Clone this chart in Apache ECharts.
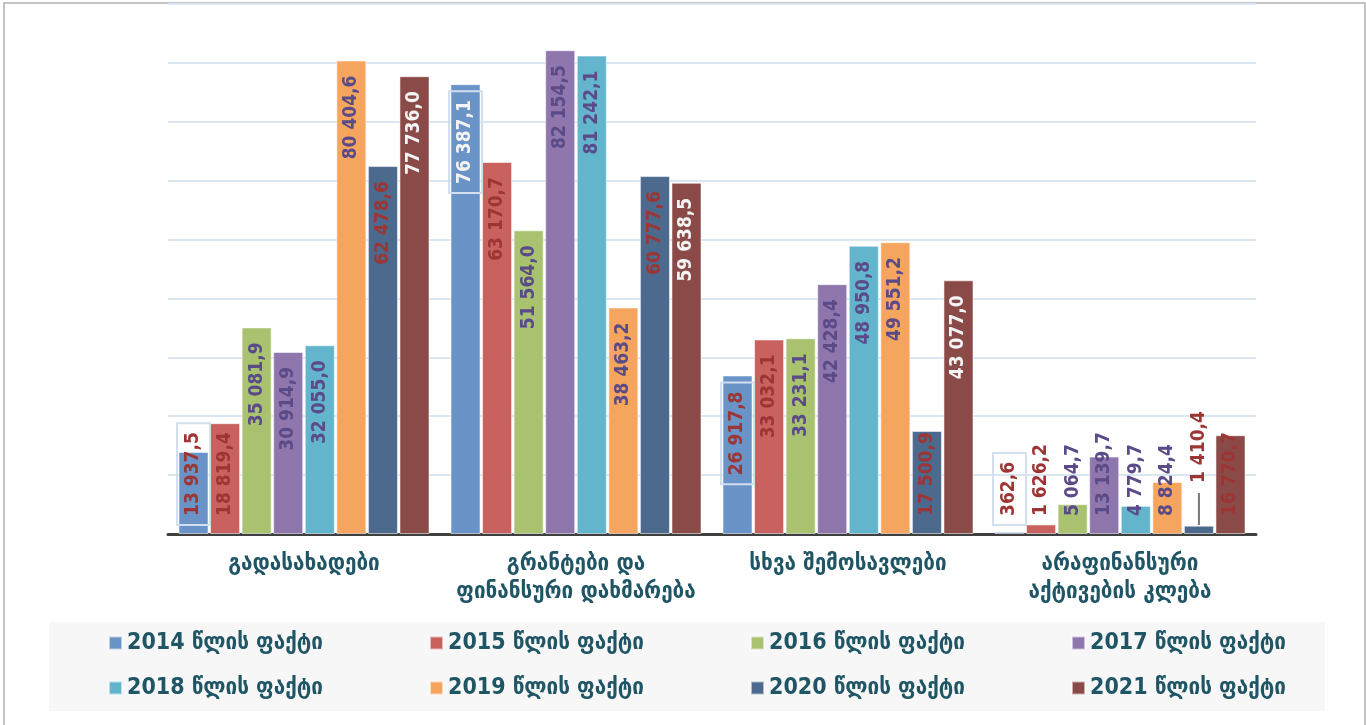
<!DOCTYPE html>
<html>
	<head>
		<meta charset="utf-8">
		<title>ფაქტი</title>
		<script src="https://cdn.jsdelivr.net/npm/echarts@6/dist/echarts.min.js"></script>
		<style>
			html, body { margin: 0; padding: 0; background: #fff; }
			#main { width: 1366px; height: 725px; }
		</style>
	</head>
	<body>
		<div id="main"></div>
		<script>
			// კატეგორიები
			var categories = ['გადასახადები', 'გრანტები და\nფინანსური დახმარება', 'სხვა შემოსავლები', 'არაფინანსური\nაქტივების კლება'];
			var years = ['2014 წლის ფაქტი', '2015 წლის ფაქტი', '2016 წლის ფაქტი', '2017 წლის ფაქტი',
				'2018 წლის ფაქტი', '2019 წლის ფაქტი', '2020 წლის ფაქტი', '2021 წლის ფაქტი'];

			// მონაცემები (ათასი ლარი)
			var fact2014 = [13937.5, 76387.1, 26917.8, 362.6];
			var fact2015 = [18819.4, 63170.7, 33032.1, 1626.2];
			var fact2016 = [35081.9, 51564.0, 33231.1, 5064.7];
			var fact2017 = [30914.9, 82154.5, 42428.4, 13139.7];
			var fact2018 = [32055.0, 81242.1, 48950.8, 4779.7];
			var fact2019 = [80404.6, 38463.2, 49551.2, 8824.4];
			var fact2020 = [62478.6, 60777.6, 17500.9, 1410.4];
			var fact2021 = [77736.0, 59638.5, 43077.0, 16770.7];
			var allData = [fact2014, fact2015, fact2016, fact2017, fact2018, fact2019, fact2020, fact2021];

			var colors = ['#6a93c8', '#c9625f', '#a8c26f', '#8f77ad', '#62b5cc', '#f6a55f', '#4b6a8e', '#8a4a48'];

			// წარწერების ფერები
			var RED = '#9c3533', PURPLE = '#5a4a88', WHITE = '#f4f4f4';
			var labelColors = [
				[RED, WHITE, RED, RED],
				[RED, RED, RED, RED],
				[PURPLE, PURPLE, PURPLE, PURPLE],
				[PURPLE, PURPLE, PURPLE, PURPLE],
				[PURPLE, PURPLE, PURPLE, PURPLE],
				[PURPLE, PURPLE, PURPLE, PURPLE],
				[RED, RED, RED, RED],
				[WHITE, WHITE, WHITE, RED]
			];

			var FONT = "'DejaVu Sans Condensed', 'DejaVu Sans', sans-serif";

			function fmt(v) {
				var p = v.toFixed(1).split('.');
				return p[0].replace(/\B(?=(\d{3})+(?!\d))/g, ' ') + ',' + p[1];
			}

			var series = allData.map(function (arr, s) {
				var boxed = s === 0;
				return {
					name: years[s],
					type: 'bar',
					barGap: '5%',
					barCategoryGap: '7.7%',
					itemStyle: { color: colors[s], borderColor: 'rgba(255,255,255,0.55)', borderWidth: 1 },
					data: arr.map(function (v, i) {
						var low = v < 20000;
						var item = {
							value: v,
							label: {
								show: true,
								rotate: 90,
								position: low ? 'insideBottom' : 'insideTop',
								align: low ? 'left' : 'right',
								verticalAlign: 'middle',
								distance: boxed ? (low ? 9 : 7) : (low ? 18 : 15),
								color: labelColors[s][i],
								fontFamily: FONT,
								fontWeight: 'bold',
								fontSize: 19,
								formatter: function (p) { return fmt(p.value); }
							}
						};
						if (boxed) {
							item.label.borderColor = '#d3deee';
							item.label.borderWidth = 2;
							item.label.padding = [7, 9, 7, 9];
						}
						// პატარა სვეტი: წარწერა ზემოთ, გამყოლი ხაზით
						if (s === 6 && i === 3) {
							item.label.distance = 9;
							item.label.formatter = function (p) { return '{l|}{g|}' + fmt(p.value); };
							item.label.rich = {
								l: { width: 32, height: 2, backgroundColor: '#777' },
								g: { width: 10 }
							};
						}
						return item;
					})
				};
			});

			var myChart = echarts.init(document.getElementById('main'));
			var option = {
				animation: false,
				backgroundColor: '#fff',
				graphic: [
					{
						type: 'rect', z: -10,
						shape: { x: 4, y: 3, width: 1361, height: 740 },
						style: { fill: 'none', stroke: '#c4c4c4', lineWidth: 2 }
					},
					{
						type: 'rect', z: -10,
						shape: { x: 49, y: 622, width: 1276, height: 89 },
						style: { fill: '#f7f7f7' }
					}
				],
				grid: { left: 168, right: 110, top: 4, bottom: 191 },
				legend: {
					data: years,
					left: 108,
					top: 628,
					width: 1280,
					padding: 0,
					itemGap: 15,
					itemWidth: 13,
					itemHeight: 13,
					icon: 'rect',
					textStyle: {
						fontFamily: FONT,
						fontWeight: 'bold',
						fontSize: 23,
						color: '#1f5565',
						width: 287,
						lineHeight: 30
					}
				},
				xAxis: {
					type: 'category',
					data: categories,
					axisTick: { show: false },
					axisLine: { lineStyle: { color: '#3f3f3f', width: 3 } },
					axisLabel: {
						margin: 16,
						fontFamily: FONT,
						fontWeight: 'bold',
						fontSize: 23,
						lineHeight: 28,
						color: '#1f5565',
						interval: 0
					}
				},
				yAxis: {
					type: 'value',
					min: 0,
					max: 90000,
					interval: 10000,
					axisLabel: { show: false },
					axisLine: { show: false },
					axisTick: { show: false },
					splitLine: { lineStyle: { color: '#dce5f2', width: 2 } }
				},
				series: series
			};
			myChart.setOption(option);
		</script>
	</body>
</html>
